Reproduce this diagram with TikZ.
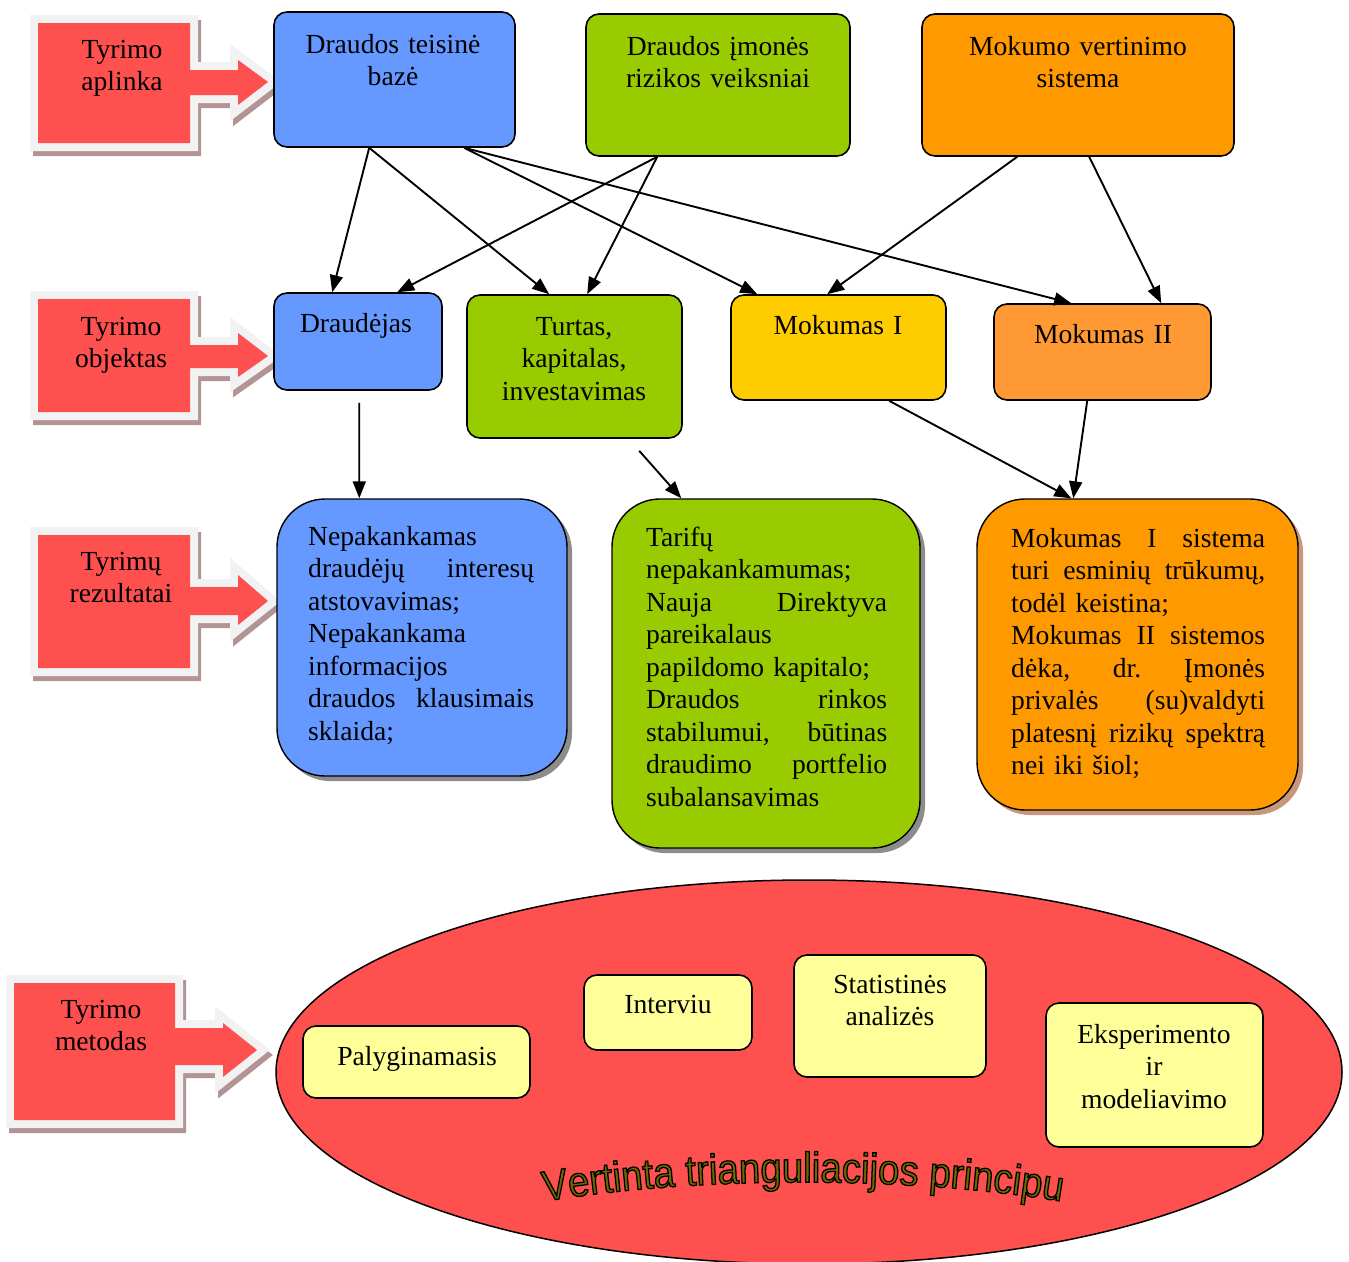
\documentclass[tikz,border=0pt]{standalone}
\usepackage{fontspec}
\setmainfont{Liberation Serif}
\newfontfamily\wafont[FakeStretch=0.9, FakeBold=3]{Liberation Sans}
\usetikzlibrary{arrows.meta,decorations.text}
\definecolor{cred}{HTML}{FF5050}
\definecolor{cblue}{HTML}{6699FF}
\definecolor{cgreen}{HTML}{99CC00}
\definecolor{corange}{HTML}{FF9900}
\definecolor{cyellow}{HTML}{FFCC00}
\definecolor{corange2}{HTML}{FF9933}
\definecolor{clight}{HTML}{FFFF99}
\definecolor{calborder}{HTML}{F2F2F2}
\definecolor{calshadow}{HTML}{B39494}
\definecolor{shgray}{HTML}{8C8C8C}
\definecolor{shbrown}{HTML}{C8967A}
\newcommand\calloutdraw[1]{%
  \draw[shift={(3,5)}, draw=calshadow, line width=16pt, line join=miter, miter limit=3, fill=calshadow] #1;
  \draw[draw=calborder, line width=16pt, line join=miter, miter limit=3, fill=calborder] #1;
  \fill[cred] #1;
}
\newcommand\waformat{\wafont\fontsize{42.5}{42.5}\selectfont\special{pdf:literal direct 0.42 0.42 0 rg 0 0 0 RG}}
\tikzset{
  box/.style={draw=black, line width=1.6pt, rounded corners=13pt, inner sep=0pt},
  resbox/.style={draw=black, line width=1.4pt, rounded corners=48pt, inner sep=0pt},
  lbl/.style={text width=320pt, align=center, inner sep=0pt, anchor=base},
  restext/.style={anchor=base west, align=left, inner sep=0pt},
  conn/.style={-{Triangle[length=17pt,width=13pt]}, line width=1.9pt},
}
\begin{document}
\begin{tikzpicture}[x=1pt,y=-1pt, font=\fontsize{27.6}{32.5}\selectfont]
\useasboundingbox (0,0) rectangle (1349,1261);
\fill[white] (0,0) rectangle (1349,1261);

% callouts
\calloutdraw{(38,23) -- (190,23) -- (190,70) -- (238,70) -- (238,60) -- (268,82) -- (238,105) -- (238,95) -- (190,95) -- (190,143) -- (38,143) -- cycle}
\calloutdraw{(38,299) -- (190,299) -- (190,345) -- (238,345) -- (238,333) -- (268,356) -- (238,377) -- (238,368) -- (190,368) -- (190,412) -- (38,412) -- cycle}
\calloutdraw{(38,535) -- (190,535) -- (190,587) -- (238,587) -- (238,575) -- (268,601) -- (238,625) -- (238,615) -- (190,615) -- (190,668) -- (38,668) -- cycle}
\calloutdraw{(14,983) -- (175,983) -- (175,1028) -- (223,1028) -- (223,1023) -- (257,1050) -- (223,1077) -- (223,1065) -- (175,1065) -- (175,1120) -- (14,1120) -- cycle}
\node[lbl] (c1) at (122,58) {Tyrimo\\aplinka};
\node[lbl] (c2) at (121,335) {Tyrimo\\objektas};
\node[lbl] (c3) at (121,570) {Tyrimų\\rezultatai};
\node[lbl] (c4) at (101,1018) {Tyrimo\\metodas};

% top row
\node[box, fill=cblue, minimum width=241pt, minimum height=135pt] (tb) at (394.5,79.5) {};
\node[box, fill=cgreen, minimum width=264pt, minimum height=142pt] (im) at (718,85) {};
\node[box, fill=corange, minimum width=312pt, minimum height=142pt] (vs) at (1078,85) {};
\node[lbl] (tbt) at (393,53) {Draudos teisinė\\bazė};
\node[lbl] (imt) at (718,55) {Draudos įmonės\\rizikos veiksniai};
\node[lbl] (vst) at (1078,55) {Mokumo vertinimo\\sistema};

% second row
\node[box, fill=cblue, minimum width=168pt, minimum height=97pt] (de) at (358,341.5) {};
\node[box, fill=cgreen, minimum width=215pt, minimum height=143pt] (tu) at (574.5,366.5) {};
\node[box, fill=cyellow, minimum width=215pt, minimum height=105pt] (m1) at (838.5,347.5) {};
\node[box, fill=corange2, minimum width=217pt, minimum height=96pt] (m2) at (1102.5,352) {};
\node[lbl] (det) at (356,332) {Draudėjas};
\node[lbl] (tut) at (574,335) {Turtas,\\kapitalas,\\investavimas};
\node[lbl] (m1t) at (838,334) {Mokumas I};
\node[lbl] (m2t) at (1103,343) {Mokumas II};

% result row
\fill[shgray, rounded corners=48pt] (282,504) rectangle (572,781);
\fill[shgray, rounded corners=48pt] (617,504) rectangle (925,853);
\fill[shbrown, rounded corners=48pt] (982,504) rectangle (1303,815);
\node[resbox, fill=cblue, minimum width=290pt, minimum height=277pt] (rb) at (422,637.5) {};
\node[resbox, fill=cgreen, minimum width=308pt, minimum height=349pt] (rg) at (766,673.5) {};
\node[resbox, fill=corange, minimum width=321pt, minimum height=311pt] (ro) at (1137.5,654.5) {};
\node[restext, text width=226pt] (rbt) at (308,545) {Nepakankamas\\draudėjų\hfill interesų\\atstovavimas;\\Nepakankama\\informacijos\\draudos\hfill klausimais\\sklaida;};
\node[restext, text width=241pt] (rgt) at (646,546) {Tarifų\\nepakankamumas;\\Nauja\hfill Direktyva\\pareikalaus\\papildomo kapitalo;\\Draudos\hfill rinkos\\stabilumui,\hfill būtinas\\draudimo\hfill portfelio\\subalansavimas};
\node[restext, text width=254pt] (rot) at (1011,547) {Mokumas\hfill I\hfill sistema\\turi\hfill esminių\hfill trūkumų,\\todėl keistina;\\Mokumas\hfill II\hfill sistemos\\dėka,\hfill dr.\hfill Įmonės\\privalės\hfill (su)valdyti\\platesnį\hfill rizikų\hfill spektrą\\nei iki šiol;};

% connectors
\draw[conn] ([xshift=96pt]tb.south west) -- ([xshift=59pt]de.north west);
\draw[conn] ([xshift=96pt]tb.south west) -- ([xshift=83pt]tu.north west);
\draw[conn] ([xshift=191pt]tb.south west) -- ([xshift=27pt]m1.north west);
\draw[conn] ([xshift=191pt]tb.south west) -- ([xshift=78pt]m2.north west);
\draw[conn] ([xshift=72pt]im.south west) -- ([xshift=124pt]de.north west);
\draw[conn] ([xshift=72pt]im.south west) -- ([xshift=121pt]tu.north west);
\draw[conn] ([xshift=96pt]vs.south west) -- ([xshift=97pt]m1.north west);
\draw[conn] ([xshift=168pt]vs.south west) -- ([xshift=168pt]m2.north west);
\draw[conn] ([xshift=86pt,yshift=-12pt]de.south west) -- ([xshift=83pt]rb.north west);
\draw[conn] ([xshift=173pt,yshift=-12pt]tu.south west) -- ([xshift=70pt]rg.north west);
\draw[conn] ([xshift=159pt]m1.south west) -- ([xshift=95pt]ro.north west);
\draw[conn] ([xshift=94pt]m2.south west) -- ([xshift=97pt]ro.north west);

% method ellipse
\draw[line width=1.5pt, fill=cred] (809,1072) ellipse [x radius=533, y radius=192];
\node[box, fill=clight, minimum width=227pt, minimum height=72pt] (pa) at (416.5,1062) {};
\node[box, fill=clight, minimum width=168pt, minimum height=75pt] (iv) at (668,1012.5) {};
\node[box, fill=clight, minimum width=192pt, minimum height=122pt] (st) at (890,1016) {};
\node[box, fill=clight, minimum width=217pt, minimum height=144pt] (ek) at (1154.5,1075) {};
\node[lbl] (pat) at (417,1065) {Palyginamasis};
\node[lbl] (ivt) at (668,1013) {Interviu};
\node[lbl] (stt) at (890,993) {Statistinės\\analizės};
\node[lbl] (ekt) at (1154,1043) {Eksperimento\\ir\\modeliavimo};

% word art
\path[decorate, decoration={text along path, text align=center,
    text={|\waformat|Vertinta trianguliacijos principu}}]
    (513,1207) .. controls (680,1174) and (926,1174) .. (1093,1207);
\end{tikzpicture}
\end{document}
